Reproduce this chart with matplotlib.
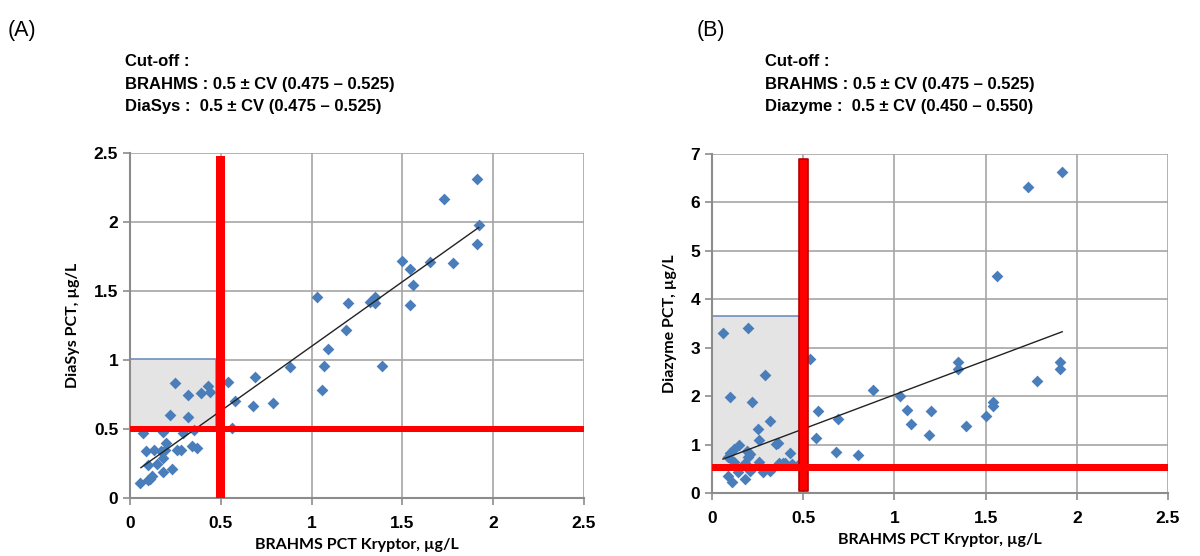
import matplotlib.pyplot as plt
from matplotlib.patches import Rectangle

# ---- data ----
# panel A : BRAHMS vs DiaSys
brahms_a = [1.91, 1.73, 1.92, 1.91, 1.50, 1.54, 1.65, 1.78, 1.56, 1.54,
            1.03, 1.20, 1.32, 1.35, 1.35, 1.19, 1.09, 1.07, 1.39, 1.06,
            0.88, 0.69, 0.68, 0.79, 0.58, 0.54, 0.56, 0.49, 0.43, 0.44,
            0.39, 0.32, 0.25, 0.32, 0.22, 0.35, 0.29, 0.18, 0.07, 0.09,
            0.13, 0.20, 0.19, 0.18, 0.17, 0.26, 0.28, 0.34, 0.37, 0.10,
            0.15, 0.18, 0.23, 0.12, 0.11, 0.055, 0.10]
diasys = [2.31, 2.17, 1.98, 1.84, 1.72, 1.66, 1.71, 1.70, 1.54, 1.40,
          1.46, 1.41, 1.42, 1.46, 1.41, 1.22, 1.08, 0.96, 0.96, 0.78,
          0.95, 0.88, 0.67, 0.69, 0.70, 0.84, 0.51, 0.51, 0.81, 0.77,
          0.76, 0.75, 0.83, 0.59, 0.60, 0.49, 0.47, 0.48, 0.47, 0.34,
          0.35, 0.40, 0.35, 0.29, 0.34, 0.35, 0.35, 0.38, 0.36, 0.24,
          0.25, 0.19, 0.21, 0.16, 0.14, 0.11, 0.13]

# panel B : BRAHMS vs Diazyme
brahms_b = [1.92, 1.73, 1.56, 0.06, 0.20, 0.54, 0.29, 1.35, 1.35, 1.91,
            1.91, 1.78, 0.88, 1.03, 0.10, 0.22, 1.07, 1.20, 0.58, 1.54,
            1.54, 1.50, 0.69, 0.32, 1.09, 1.39, 0.25, 1.19, 0.57, 0.26,
            0.35, 0.15, 0.68, 0.80, 0.43, 0.12, 0.10, 0.09, 0.19, 0.20,
            0.21, 0.12, 0.18, 0.26, 0.37, 0.39, 0.44, 0.49, 0.21, 0.14,
            0.28, 0.32, 0.09, 0.11, 0.18, 0.36, 0.40]
diazyme = [6.63, 6.31, 4.49, 3.31, 3.40, 2.77, 2.43, 2.70, 2.57, 2.71,
           2.57, 2.32, 2.13, 2.01, 1.98, 1.88, 1.71, 1.70, 1.69, 1.88,
           1.79, 1.60, 1.53, 1.48, 1.42, 1.38, 1.32, 1.19, 1.13, 1.09,
           1.02, 1.00, 0.85, 0.79, 0.83, 0.90, 0.82, 0.75, 0.87, 0.75,
           0.80, 0.63, 0.61, 0.63, 0.61, 0.61, 0.60, 0.65, 0.46, 0.44,
           0.43, 0.46, 0.35, 0.22, 0.29, 1.03, 0.62]

# trend line ends
trend_a_x = [0.06, 1.92]
trend_a_y = [0.22, 1.96]
trend_b_x = [0.06, 1.92]
trend_b_y = [0.70, 3.33]

# cut-off bands
brahms_cut = [0.475, 0.525]
diasys_cut = [0.475, 0.525]
diazyme_cut = [0.45, 0.60]
grey_a = [0.5, 1.01]   # y range of grey zone
grey_b = [0.55, 3.65]

header_a = ['Cut-off :', 'BRAHMS : 0.5 ± CV (0.475 – 0.525)', 'DiaSys :  0.5 ± CV (0.475 – 0.525)']
header_b = ['Cut-off :', 'BRAHMS : 0.5 ± CV (0.475 – 0.525)', 'Diazyme :  0.5 ± CV (0.450 – 0.550)']

W, H = 1200, 556
fig = plt.figure(figsize=(12, 5.56), dpi=100)

blue = '#4a7ebb'
grid_c = '#a6a6a6'
tickfont = dict(family='Liberation Sans', weight='bold', size=12.5)
labfont = dict(family='Lato', weight='bold', size=11.5)


def make_panel(rect, x, y, tx, ty, ylim, yticks, ylabel, ycut, grey, vtop, edged):
    ax = fig.add_axes(rect)
    ax.set_xlim(0, 2.5)
    ax.set_ylim(*ylim)
    ax.set_xticks([0, 0.5, 1, 1.5, 2, 2.5])
    ax.set_xticklabels(['0', '0.5', '1', '1.5', '2', '2.5'], **tickfont)
    ax.set_yticks(yticks)
    ax.set_yticklabels([('%g' % v) for v in yticks], **tickfont)
    ax.grid(True, color=grid_c, lw=1.2, zorder=0)
    ax.set_axisbelow(True)
    for s in ax.spines.values():
        s.set_visible(False)
    ax.spines['left'].set_visible(True)
    ax.spines['bottom'].set_visible(True)
    ax.spines['left'].set_color('#8c8c8c')
    ax.spines['bottom'].set_color('#8c8c8c')
    ax.spines['left'].set_linewidth(1.5)
    ax.spines['bottom'].set_linewidth(1.5)
    ax.tick_params(length=5, color='#8c8c8c', width=1.2)
    ax.tick_params(axis='x', pad=8)
    ax.set_ylabel(ylabel, labelpad=10, **labfont)
    ax.set_xlabel('BRAHMS PCT Kryptor, µg/L', labelpad=5, **labfont)

    ax.add_patch(Rectangle((0, grey[0]), brahms_cut[0], grey[1] - grey[0],
                           facecolor='#e4e4e4', edgecolor='#6f8fbf', lw=1.2, zorder=1))
    ax.scatter(x, y, marker='D', s=36, color=blue, zorder=3, linewidths=0)
    ax.plot(tx, ty, color='#222222', lw=1.0, zorder=4)
    ec = '#b80000' if edged else 'none'
    ax.fill_betweenx([ylim[0] + vtop[0], vtop[1]], brahms_cut[0], brahms_cut[1],
                     facecolor='#ff0000', edgecolor=ec, lw=1.2, zorder=5)
    ax.fill_between([0, 2.5], ycut[0], ycut[1], facecolor='#ff0000', edgecolor='none',
                    zorder=5, clip_on=False)
    return ax


axA = make_panel([130 / W, 1 - 498 / H, 454 / W, 345 / H], brahms_a, diasys,
                 trend_a_x, trend_a_y, (0, 2.5), [0, 0.5, 1, 1.5, 2, 2.5],
                 'DiaSys PCT, µg/L', diasys_cut, grey_a, (0, 2.48), False)
axB = make_panel([712 / W, 1 - 493 / H, 456 / W, 339 / H], brahms_b, diazyme,
                 trend_b_x, trend_b_y, (0, 7), [0, 1, 2, 3, 4, 5, 6, 7],
                 'Diazyme PCT, µg/L', diazyme_cut, grey_b, (0.05, 6.9), True)

# headers
for lab, lx, hx, lines in [('(A)', 8, 125, header_a), ('(B)', 697, 765, header_b)]:
    fig.text(lx / W, 1 - 36 / H, lab, family='Liberation Sans', size=15.5, va='baseline')
    for i, t in enumerate(lines):
        fig.text(hx / W, 1 - (66 + 22.5 * i) / H, t, family='Liberation Sans',
                 weight='bold', size=12, va='baseline')

fig.savefig('out.png', dpi=100)
